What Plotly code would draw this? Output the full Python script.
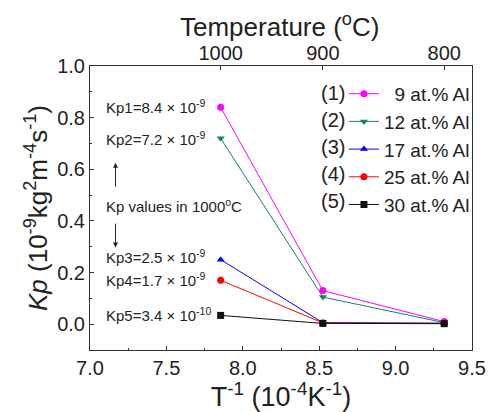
import plotly.graph_objects as go

# Data
inv_T = [7.855, 8.524, 9.318]          # 10^-4 K^-1 (1000, 900, 800 °C)
kp1 = [0.84, 0.13, 0.010]
kp2 = [0.72, 0.105, 0.006]
kp3 = [0.25, 0.006, 0.004]
kp4 = [0.17, 0.005, 0.003]
kp5 = [0.034, 0.003, 0.002]
series_names = ["\u20079 at.% Al", "12 at.% Al", "17 at.% Al", "25 at.% Al", "30 at.% Al"]
series_tags = ["(1)", "(2)", "(3)", "(4)", "(5)"]
top_tick_vals = [7.855, 8.524, 9.318]
top_tick_text = ["1000", "900", "800"]
kp_labels = ["Kp1=8.4 × 10<sup>-9</sup>", "Kp2=7.2 × 10<sup>-9</sup>",
             "Kp3=2.5 × 10<sup>-9</sup>", "Kp4=1.7 × 10<sup>-9</sup>",
             "Kp5=3.4 × 10<sup>-10</sup>"]
kp_label_y = [0.844, 0.718, 0.261, 0.174, 0.038]

colors = ["#FF00FF", "#11806f", "#0000FF", "#FF0000", "#111111"]
symbols = ["circle", "triangle-down", "triangle-up", "circle", "square"]
series = [kp1, kp2, kp3, kp4, kp5]

FONT = "Liberation Sans, Arial, sans-serif"

L, R, T, B = 90, 18, 66, 57
W, H = 498, 412
pw, ph = W - L - R, H - T - B


def px2paper_x(px):
    return (px - L) / pw


def px2paper_y(py):
    return 1 - (py - T) / ph


fig = go.Figure()
for i, (vals, nm) in enumerate(zip(series, series_names)):
    fig.add_trace(go.Scatter(
        x=inv_T, y=vals, mode="lines+markers", name=nm,
        line=dict(color=colors[i], width=1),
        marker=dict(color=colors[i], symbol=symbols[i], size=7),
    ))

# invisible trace to enable top axis
fig.add_trace(go.Scatter(x=inv_T, y=kp1, xaxis="x2", mode="markers",
                         marker=dict(opacity=0), showlegend=False, hoverinfo="skip"))

ann = []
for txt, yv in zip(kp_labels, kp_label_y):
    ann.append(dict(x=7.09, y=yv, xref="x", yref="y", text=txt, showarrow=False,
                    xanchor="left", yanchor="middle",
                    font=dict(family=FONT, size=15, color="#222")))
ann.append(dict(x=7.09, y=0.459, xref="x", yref="y", text="Kp values in 1000<sup>o</sup>C",
                showarrow=False, xanchor="left", yanchor="middle",
                font=dict(family=FONT, size=15, color="#222")))
ann.append(dict(x=7.167, y=0.625, ax=7.167, ay=0.527, xref="x", yref="y",
                axref="x", ayref="y", text="", showarrow=True, arrowhead=2,
                arrowsize=1, arrowwidth=1, arrowcolor="#222"))
ann.append(dict(x=7.167, y=0.297, ax=7.167, ay=0.395, xref="x", yref="y",
                axref="x", ayref="y", text="", showarrow=True, arrowhead=2,
                arrowsize=1, arrowwidth=1, arrowcolor="#222"))
# legend tags
leg_y_px = [93, 120.7, 148.4, 176, 203.8]
for tag, ypx in zip(series_tags, leg_y_px):
    ann.append(dict(x=px2paper_x(352), y=px2paper_y(ypx), xref="paper", yref="paper",
                    text=tag, showarrow=False, xanchor="right", yanchor="middle",
                    font=dict(family=FONT, size=20, color="#222")))
# top axis title
ann.append(dict(x=px2paper_x(283), y=px2paper_y(25), xref="paper", yref="paper",
                text="Temperature (<sup>o</sup>C)", showarrow=False,
                xanchor="center", yanchor="middle",
                font=dict(family=FONT, size=26, color="#222")))

fig.update_layout(
    width=W, height=H,
    margin=dict(l=L, r=R, t=T, b=B),
    paper_bgcolor="white", plot_bgcolor="white",
    font=dict(family=FONT, color="#222"),
    showlegend=True,
    legend=dict(x=px2paper_x(483), xanchor="right", y=px2paper_y(75), yanchor="top",
                font=dict(family=FONT, size=19, color="#222"),
                bgcolor="rgba(0,0,0,0)", tracegroupgap=0),
    annotations=ann,
    xaxis=dict(range=[7.0, 9.5], dtick=0.5, tickformat=".1f",
               ticks="inside", ticklen=4, tickcolor="#333",
               minor=dict(ticks="inside", ticklen=2, dtick=0.25, tickcolor="#333"),
               showline=True, linecolor="#333", linewidth=1, showgrid=False, zeroline=False,
               tickfont=dict(family=FONT, size=20),
               title=dict(text="T<sup>-1</sup> (10<sup>-4</sup>K<sup>-1</sup>)",
                          font=dict(family=FONT, size=27), standoff=2)),
    xaxis2=dict(range=[7.0, 9.5], overlaying="x", side="top",
                tickmode="array", tickvals=top_tick_vals, ticktext=top_tick_text,
                ticks="inside", ticklen=4, tickcolor="#333",
                showline=True, linecolor="#333", linewidth=1, showgrid=False, zeroline=False,
                tickfont=dict(family=FONT, size=20), ticklabelstandoff=-3),
    yaxis=dict(range=[-0.1, 1.0], dtick=0.2, tickformat=".1f",
               ticks="inside", ticklen=4, tickcolor="#333",
               minor=dict(ticks="inside", ticklen=2, dtick=0.1, tickcolor="#333"),
               showline=True, linecolor="#333", linewidth=1, mirror=True,
               showgrid=False, zeroline=False,
               tickfont=dict(family=FONT, size=20),
               title=dict(text="<i>Kp</i> (10<sup>-9</sup>kg<sup>2</sup>m<sup>-4</sup>s<sup>-1</sup>)",
                          font=dict(family=FONT, size=26), standoff=2)),
)

fig.write_html("out.html")
